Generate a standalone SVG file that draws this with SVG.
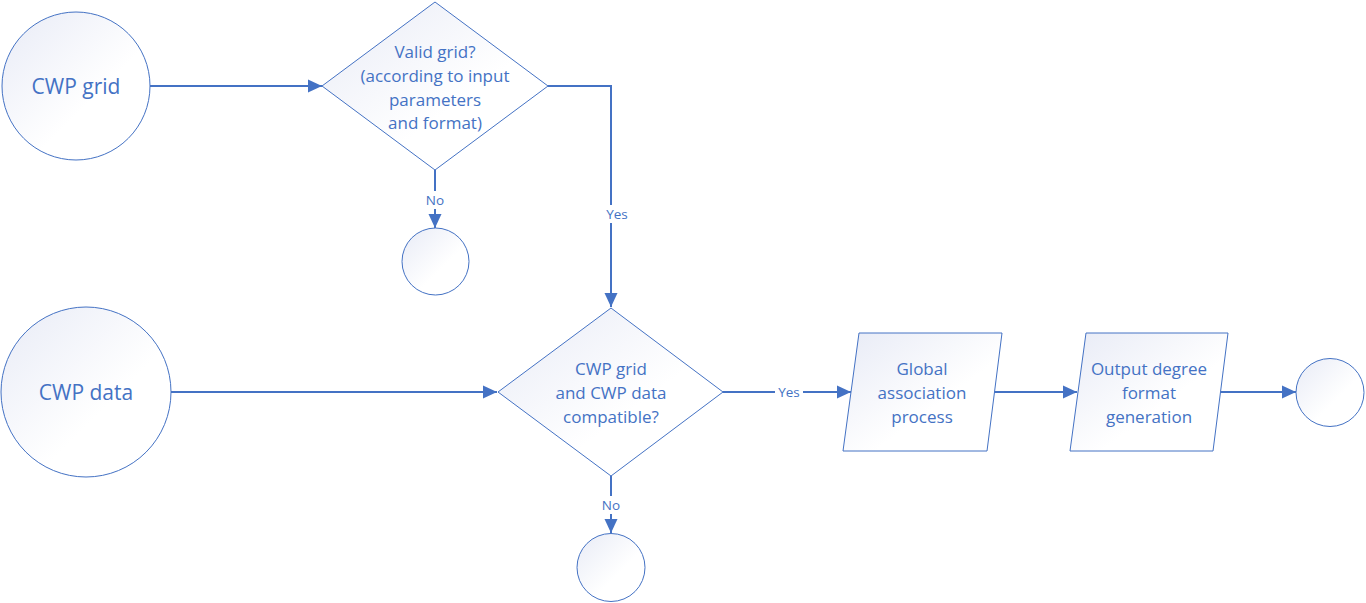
<svg xmlns="http://www.w3.org/2000/svg" width="1366" height="603" viewBox="0 0 1366 603">
<defs>
<linearGradient id="g" x1="0" y1="0" x2="1" y2="1">
<stop offset="0" stop-color="#E8EBF6"/>
<stop offset="0.6" stop-color="#FFFFFF"/>
<stop offset="1" stop-color="#FFFFFF"/>
</linearGradient>
<marker id="arr" markerUnits="userSpaceOnUse" markerWidth="16" markerHeight="14" viewBox="0 0 16 14" refX="14" refY="7" orient="auto">
<path d="M0,0.5 L14,7 L0,13.5 Z" fill="#4472C4"/>
</marker>
<style>
.shape{fill:url(#g);stroke:#4472C4;stroke-width:1}
.t{font-family:"Open Sans","Noto Sans",sans-serif;fill:#4472C4;text-anchor:middle;dominant-baseline:central}
.big{font-size:21px}
.mid{font-size:17px}
.lab{font-size:13.5px}
.c{fill:none;stroke:#4472C4;stroke-width:2;marker-end:url(#arr)}
.bg{fill:#FFFFFF}
</style>
</defs>
<g id="connectors">
<path class="c" d="M150,86 L322,86"/>
<path class="c" d="M548,86 L611,86 L611,307"/>
<path class="c" d="M435,170 L435,228"/>
<path class="c" d="M171,392 L497,392"/>
<path class="c" d="M611,476 L611,533"/>
<path class="c" d="M723,392 L851,392"/>
<path class="c" d="M994,392 L1077,392"/>
<path class="c" d="M1220,392 L1296,392"/>
<rect class="bg" x="423" y="191" width="24" height="18"/>
<text class="t lab" x="435" y="200">No</text>
<rect class="bg" x="603" y="205" width="28" height="18"/>
<text class="t lab" x="617" y="214">Yes</text>
<rect class="bg" x="599" y="496" width="24" height="18"/>
<text class="t lab" x="611" y="505">No</text>
<rect class="bg" x="775" y="383" width="28" height="18"/>
<text class="t lab" x="789" y="392">Yes</text>
</g>
<g id="cwp-grid">
<circle class="shape" cx="76" cy="86" r="74"/>
<text class="t big" x="76" y="86">CWP grid</text>
</g>
<g id="valid-grid">
<polygon class="shape" points="435,2 548,86 435,170 322,86"/>
<text class="t mid" x="435" y="51">Valid grid?</text>
<text class="t mid" x="435" y="75">(according to input</text>
<text class="t mid" x="435" y="99">parameters</text>
<text class="t mid" x="435" y="122">and format)</text>
</g>
<g id="end-no-1">
<circle class="shape" cx="435.5" cy="261.5" r="33.5"/>
</g>
<g id="cwp-data">
<circle class="shape" cx="86" cy="392" r="85"/>
<text class="t big" x="86" y="392">CWP data</text>
</g>
<g id="compatible">
<polygon class="shape" points="611,308 723,392 611,476 498,392"/>
<text class="t mid" x="611" y="368">CWP grid</text>
<text class="t mid" x="611" y="392">and CWP data</text>
<text class="t mid" x="611" y="416">compatible?</text>
</g>
<g id="end-no-2">
<circle class="shape" cx="611" cy="567.5" r="34"/>
</g>
<g id="global-association">
<polygon class="shape" points="859,333 1002,333 987,451 843,451"/>
<text class="t mid" x="922" y="368">Global</text>
<text class="t mid" x="922" y="392">association</text>
<text class="t mid" x="922" y="416">process</text>
</g>
<g id="output-degree">
<polygon class="shape" points="1086,333 1228,333 1213,451 1070,451"/>
<text class="t mid" x="1149" y="368">Output degree</text>
<text class="t mid" x="1149" y="392">format</text>
<text class="t mid" x="1149" y="416">generation</text>
</g>
<g id="end">
<circle class="shape" cx="1330" cy="392.5" r="34"/>
</g>
</svg>
